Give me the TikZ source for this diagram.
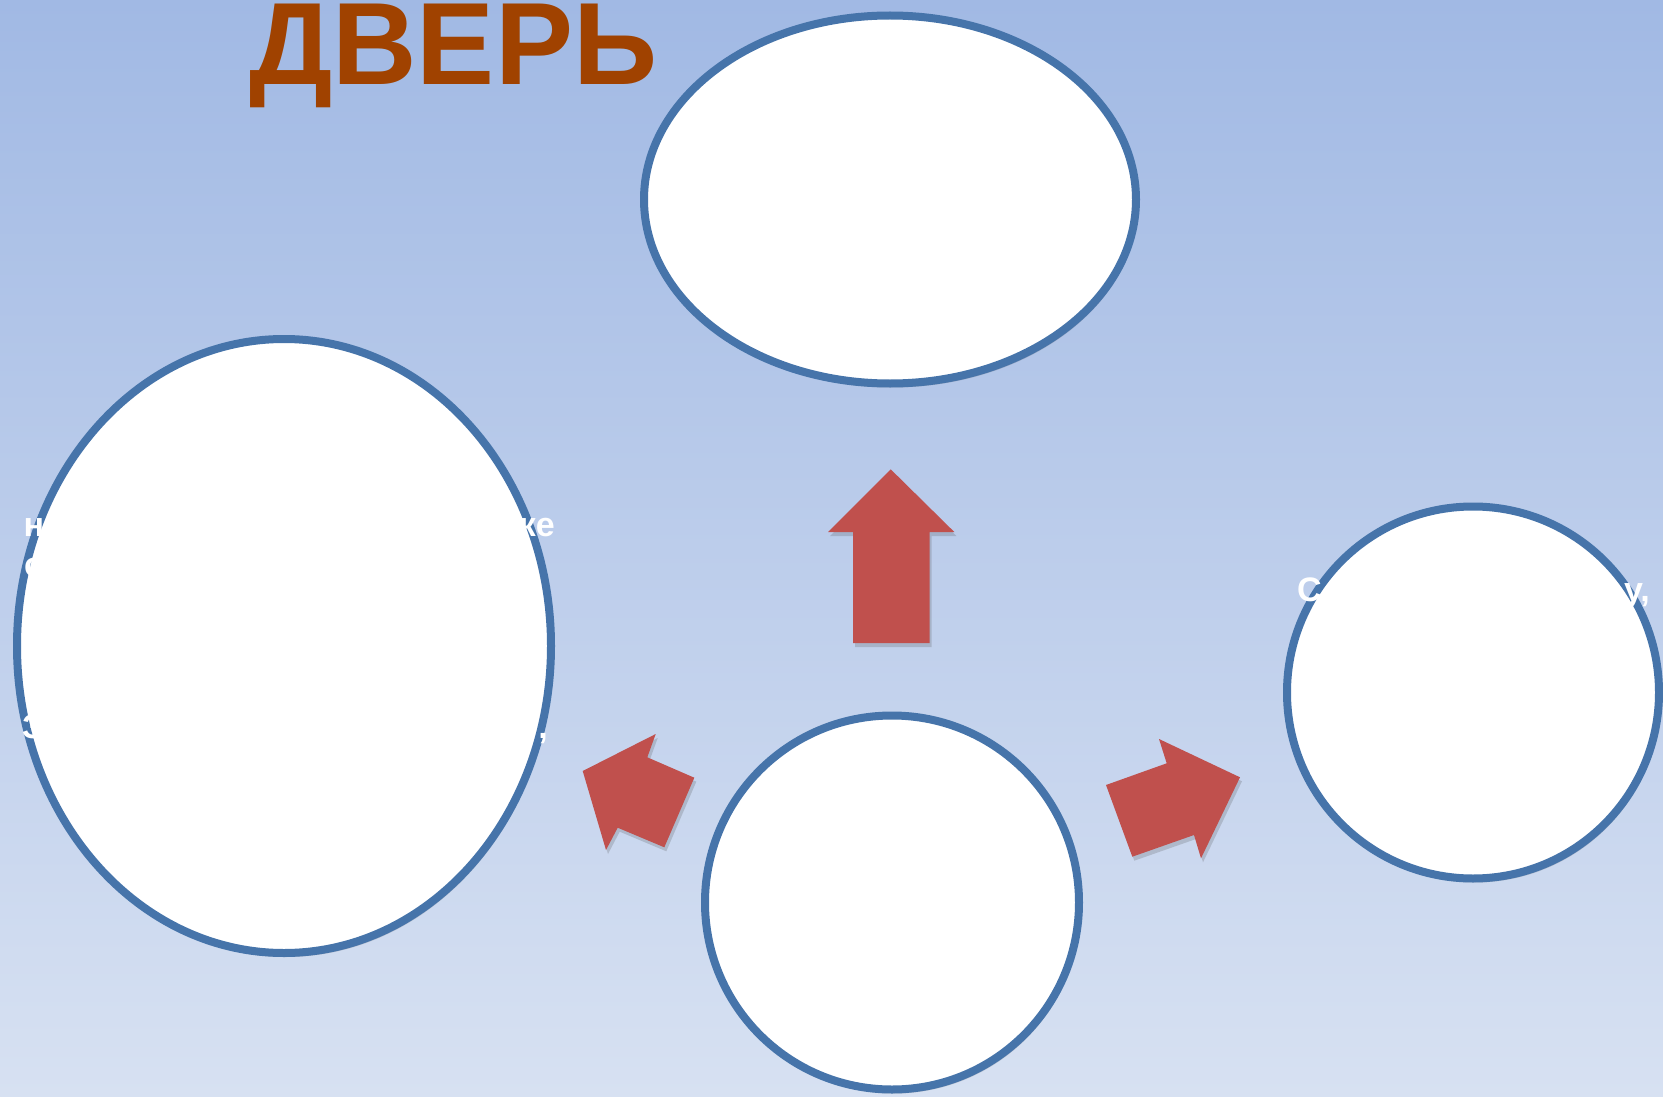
\documentclass[tikz,border=0pt]{standalone}
\usepackage{fontspec}
\setmainfont{Liberation Sans}
\usetikzlibrary{shapes.geometric,shadows}
\definecolor{bgtop}{RGB}{161,185,228}
\definecolor{bgbot}{RGB}{215,225,242}
\definecolor{rim}{RGB}{70,116,170}
\definecolor{arrowred}{RGB}{192,80,77}
\definecolor{titlebrown}{RGB}{160,66,0}
\tikzset{
  softshadow/.style={drop shadow={opacity=0.22, shadow xshift=2pt, shadow yshift=-4pt, fill=black!70}},
  bubble/.style={ellipse, draw=rim, line width=8pt, fill=white, inner sep=0pt, softshadow},
  bigarrow/.style={fill=arrowred, softshadow},
  frag/.style={text=white, font=\fontsize{34}{40}\selectfont\bfseries, inner sep=0pt},
  titletext/.style={text=titlebrown, font=\fontsize{117}{117}\selectfont\bfseries, inner sep=0pt, anchor=base west}
}
\begin{document}
\begin{tikzpicture}[x=1pt,y=-1pt]
\useasboundingbox (0,0) rectangle (1663,1097);
\shade[top color=bgtop, bottom color=bgbot] (0,0) rectangle (1663,1097);

% title
\node[titletext] (title) at (249,85) {\smash{ДВЕРЬ}};

% bubbles
\node[bubble, minimum width=492pt, minimum height=368pt] (top) at (890,199.5) {};
\node[bubble, minimum width=534pt, minimum height=614pt] (left) at (284,646) {};
\node[bubble, minimum width=374pt, minimum height=374pt] (bottom) at (892,902.5) {};
\node[bubble, minimum width=372pt, minimum height=372pt] (right) at (1473,692.5) {};

% arrows
\fill[bigarrow] (890.7,469.3) -- (954.3,532) -- (929.7,532) -- (929.7,643) -- (853,643) -- (853,532) -- (828,532) -- cycle;
\fill[bigarrow] (655.7,734) -- (647.3,757.3) -- (694.3,777.7) -- (664.3,847.3) -- (617.7,827.7) -- (606,850) -- (582.7,771) -- cycle;
\fill[bigarrow] (1106,785) -- (1166.7,763.3) -- (1159,739) -- (1240,777.3) -- (1201,858.3) -- (1194,835) -- (1132.3,856.7) -- cycle;

% white text fragments overflowing the bubbles
\node[frag, anchor=base west] (l1a) at (23.5,536) {н};
\node[frag, anchor=base east] (l1b) at (555,536) {ке};
\node[frag, anchor=base west] (l2a) at (24,576) {с};
\node[frag, anchor=base west] (l6a) at (22,738) {З};
\node[frag, anchor=base east] (l6b) at (548,738) {,};
\node[frag, anchor=base west] (r1a) at (1297,601) {С};
\node[frag, anchor=base east] (r1b) at (1650,601) {у,};
\end{tikzpicture}
\end{document}
